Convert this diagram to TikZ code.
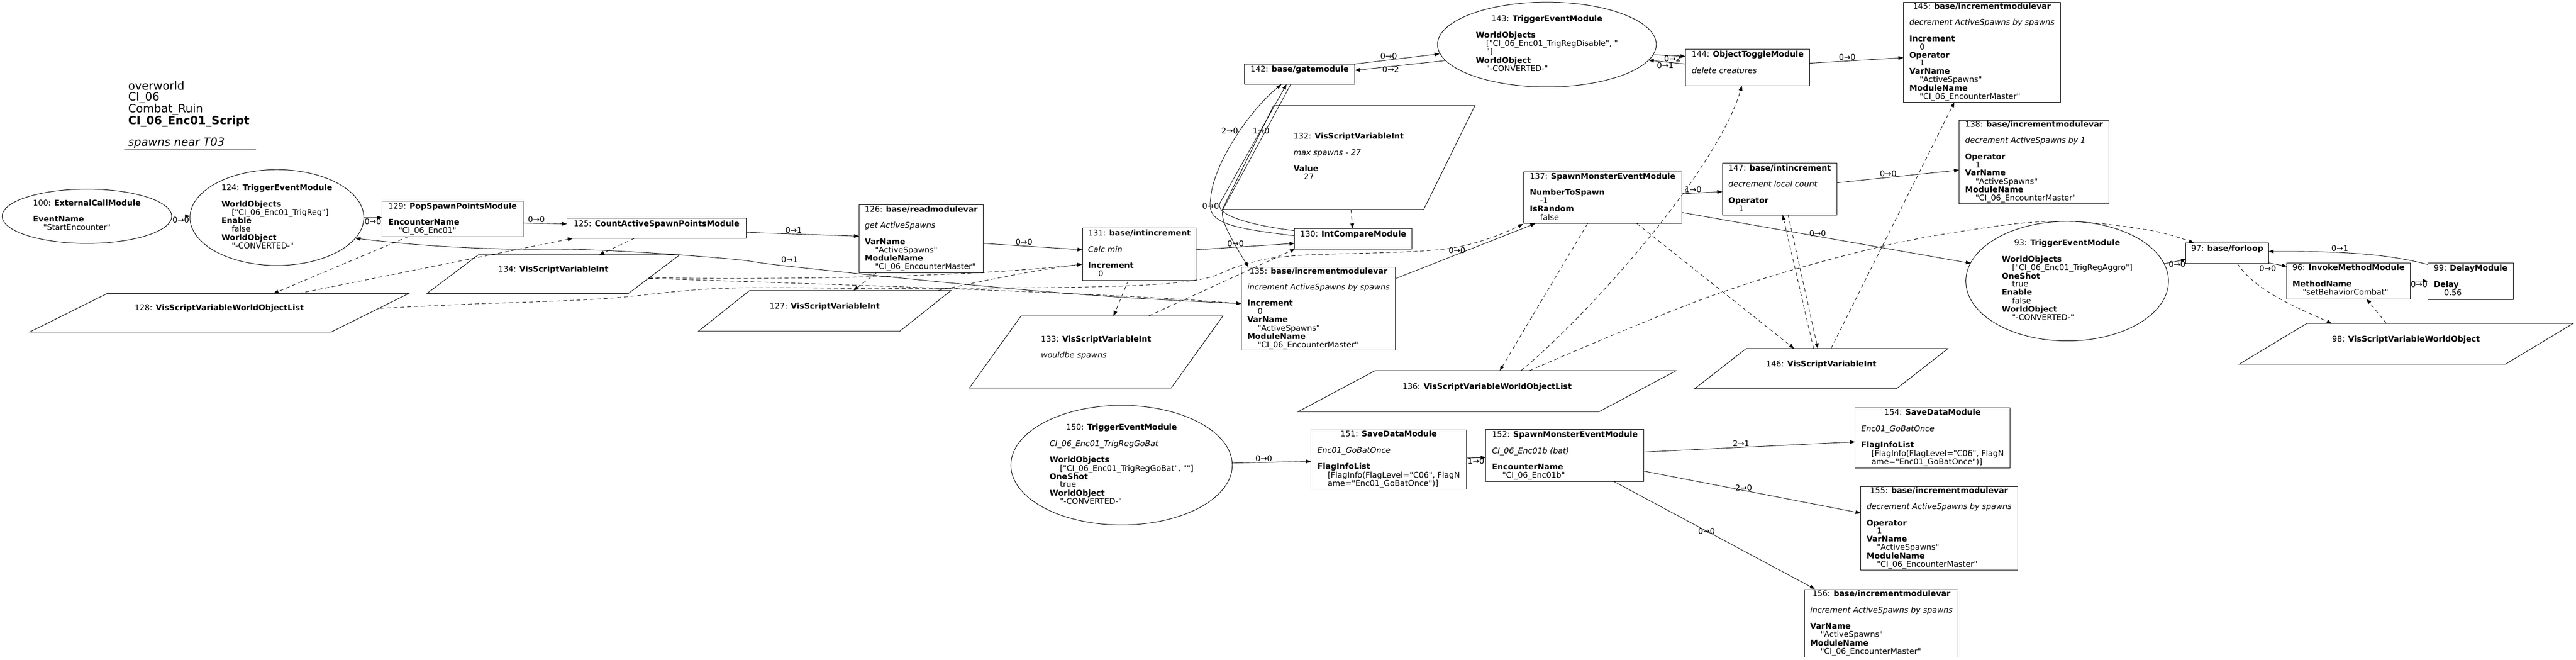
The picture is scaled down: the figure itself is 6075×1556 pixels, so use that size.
\documentclass[tikz,border=0pt]{standalone}
\usepackage{fontspec}
\setmainfont{DejaVu Sans}[Ligatures=TeXOff]
\usetikzlibrary{arrows.meta,calc}
\newcommand{\nfont}{\fontsize{14}{14}\selectfont}
\newcommand{\vv}[1]{\hspace*{1.3em}#1}
\newcommand{\hd}[1]{\multicolumn{1}{@{}c@{}}{#1}}
\newenvironment{nt}{\begin{tabular}{@{}l@{}}}{\end{tabular}}
\newcommand{\para}[4]{\draw[shp] ($(#1)+(-#2,-#4)$) -- ($(#1)+(#3,-#4)$) -- ($(#1)+(#2,#4)$) -- ($(#1)+(-#3,#4)$) -- cycle;}
\tikzset{
  shp/.style={line width=0.9pt},
  box/.style={draw, rectangle, line width=0.9pt, inner sep=0pt, font=\nfont},
  txt/.style={inner sep=0pt, font=\nfont},
  lbl/.style={inner sep=1pt, font=\nfont},
  sz/.style 2 args={minimum width=#1*0.75pt, minimum height=#2*0.75pt},
  arr/.style={line width=0.8pt, -{Triangle[length=9pt,width=6.5pt]}},
  dsh/.style={arr, dash pattern=on 7pt off 5pt},
}
\begin{document}
\begin{tikzpicture}[x=0.75pt,y=-0.75pt]
\fill[white] (0,0) rectangle (6075,1556);
\useasboundingbox (0,0) rectangle (6075,1556);

% title
\node[anchor=north west, inner sep=0pt, align=left, font=\fontsize{20}{19}\selectfont] (title) at (302,192)
 {overworld\\CI\_06\\Combat\_Ruin\\\textbf{CI\_06\_Enc01\_Script}\\\mbox{}\\\textit{spawns near T03}};
\draw[line width=1.2pt, gray!60!black] (293,353) -- (604,353);

% ellipses
\node[txt] (n100) at (205,510) {\begin{nt}\hd{100: \textbf{ExternalCallModule}}\\ \\ \textbf{EventName}\\ \vv{"StartEncounter"}\end{nt}};
\draw[shp] (n100) ellipse [x radius=150pt, y radius=48pt];
\node[txt] (n124) at (653,513) {\begin{nt}\hd{124: \textbf{TriggerEventModule}}\\ \\ \textbf{WorldObjects}\\ \vv{["CI\_06\_Enc01\_TrigReg"]}\\ \textbf{Enable}\\ \vv{false}\\ \textbf{WorldObject}\\ \vv{"-CONVERTED-"}\end{nt}};
\draw[shp] (n124) ellipse [x radius=153.75pt, y radius=84.75pt];
\node[txt] (n143) at (3648,105) {\begin{nt}\hd{143: \textbf{TriggerEventModule}}\\ \\ \textbf{WorldObjects}\\ \vv{["CI\_06\_Enc01\_TrigRegDisable", "}\\ \vv{"]}\\ \textbf{WorldObject}\\ \vv{"-CONVERTED-"}\end{nt}};
\draw[shp] (n143) ellipse [x radius=193.5pt, y radius=75pt];
\node[txt] (n93) at (4875,663) {\begin{nt}\hd{93: \textbf{TriggerEventModule}}\\ \\ \textbf{WorldObjects}\\ \vv{["CI\_06\_Enc01\_TrigRegAggro"]}\\ \textbf{OneShot}\\ \vv{true}\\ \textbf{Enable}\\ \vv{false}\\ \textbf{WorldObject}\\ \vv{"-CONVERTED-"}\end{nt}};
\draw[shp] (n93) ellipse [x radius=179.25pt, y radius=105.75pt];
\node[txt] (n150) at (2645,1097) {\begin{nt}\hd{150: \textbf{TriggerEventModule}}\\ \\ \textit{CI\_06\_Enc01\_TrigRegGoBat}\\ \\ \textbf{WorldObjects}\\ \vv{["CI\_06\_Enc01\_TrigRegGoBat", ""]}\\ \textbf{OneShot}\\ \vv{true}\\ \textbf{WorldObject}\\ \vv{"-CONVERTED-"}\end{nt}};
\draw[shp] (n150) ellipse [x radius=195.75pt, y radius=105.75pt];

% boxes
\node[box, sz={333}{83}] (n129) at (1067.5,516.5) {\begin{nt}\hd{129: \textbf{PopSpawnPointsModule}}\\ \\ \textbf{EncounterName}\\ \vv{"CI\_06\_Enc01"}\end{nt}};
\node[box, sz={423}{47}] (n125) at (1548.5,538.5) {\begin{nt}\hd{125: \textbf{CountActiveSpawnPointsModule}}\\ \mbox{}\end{nt}};
\node[box, sz={293}{160}] (n126) at (2172.5,563) {\begin{nt}\hd{126: \textbf{base/readmodulevar}}\\ \\ \textit{get ActiveSpawns}\\ \\ \textbf{VarName}\\ \vv{"ActiveSpawns"}\\ \textbf{ModuleName}\\ \vv{"CI\_06\_EncounterMaster"}\end{nt}};
\node[box, sz={268}{123}] (n131) at (2687,599.5) {\begin{nt}\hd{131: \textbf{base/intincrement}}\\ \\ \textit{Calc min}\\ \\ \textbf{Increment}\\ \vv{0}\end{nt}};
\node[box, sz={277}{48}] (n130) at (3191.5,563) {\begin{nt}\hd{130: \textbf{IntCompareModule}}\\ \mbox{}\end{nt}};
\node[box, sz={260}{48}] (n142) at (3065,175) {\begin{nt}\hd{142: \textbf{base/gatemodule}}\\ \mbox{}\end{nt}};
\node[box, sz={293}{86}] (n144) at (4121.5,159) {\begin{nt}\hd{144: \textbf{ObjectToggleModule}}\\ \\ \textit{delete creatures}\\ \mbox{}\end{nt}};
\node[box, sz={370}{236}] (n145) at (4674,123) {\begin{nt}\hd{145: \textbf{base/incrementmodulevar}}\\ \\ \textit{decrement ActiveSpawns by spawns}\\ \\ \textbf{Increment}\\ \vv{0}\\ \textbf{Operator}\\ \vv{1}\\ \textbf{VarName}\\ \vv{"ActiveSpawns"}\\ \textbf{ModuleName}\\ \vv{"CI\_06\_EncounterMaster"}\end{nt}};
\node[box, sz={354}{196}] (n138) at (4797,382) {\begin{nt}\hd{138: \textbf{base/incrementmodulevar}}\\ \\ \textit{decrement ActiveSpawns by 1}\\ \\ \textbf{Operator}\\ \vv{1}\\ \textbf{VarName}\\ \vv{"ActiveSpawns"}\\ \textbf{ModuleName}\\ \vv{"CI\_06\_EncounterMaster"}\end{nt}};
\node[box, sz={373}{122}] (n137) at (3779.5,466) {\begin{nt}\hd{137: \textbf{SpawnMonsterEventModule}}\\ \\ \textbf{NumberToSpawn}\\ \vv{-1}\\ \textbf{IsRandom}\\ \vv{false}\end{nt}};
\node[box, sz={270}{122}] (n147) at (4197,446) {\begin{nt}\hd{147: \textbf{base/intincrement}}\\ \\ \textit{decrement local count}\\ \\ \textbf{Operator}\\ \vv{1}\end{nt}};
\node[box, sz={363}{196}] (n135) at (3109.5,728) {\begin{nt}\hd{135: \textbf{base/incrementmodulevar}}\\ \\ \textit{increment ActiveSpawns by spawns}\\ \\ \textbf{Increment}\\ \vv{0}\\ \textbf{VarName}\\ \vv{"ActiveSpawns"}\\ \textbf{ModuleName}\\ \vv{"CI\_06\_EncounterMaster"}\end{nt}};
\node[box, sz={195}{48}] (n97) at (5252.5,597) {\begin{nt}\hd{97: \textbf{base/forloop}}\\ \mbox{}\end{nt}};
\node[box, sz={291}{85}] (n96) at (5538.5,662.5) {\begin{nt}\hd{96: \textbf{InvokeMethodModule}}\\ \\ \textbf{MethodName}\\ \vv{"setBehaviorCombat"}\end{nt}};
\node[box, sz={201}{86}] (n99) at (5826.5,663) {\begin{nt}\hd{99: \textbf{DelayModule}}\\ \\ \textbf{Delay}\\ \vv{0.56}\end{nt}};
\node[box, sz={366}{140}] (n151) at (3275,1084) {\begin{nt}\hd{151: \textbf{SaveDataModule}}\\ \\ \textit{Enc01\_GoBatOnce}\\ \\ \textbf{FlagInfoList}\\ \vv{[FlagInfo(FlagLevel="C06", FlagN}\\ \vv{ame="Enc01\_GoBatOnce")]}\end{nt}};
\node[box, sz={373}{123}] (n152) at (3690.5,1074.5) {\begin{nt}\hd{152: \textbf{SpawnMonsterEventModule}}\\ \\ \textit{CI\_06\_Enc01b (bat)}\\ \\ \textbf{EncounterName}\\ \vv{"CI\_06\_Enc01b"}\end{nt}};
\node[box, sz={365}{142}] (n154) at (4557.5,1033) {\begin{nt}\hd{154: \textbf{SaveDataModule}}\\ \\ \textit{Enc01\_GoBatOnce}\\ \\ \textbf{FlagInfoList}\\ \vv{[FlagInfo(FlagLevel="C06", FlagN}\\ \vv{ame="Enc01\_GoBatOnce")]}\end{nt}};
\node[box, sz={370}{197}] (n155) at (4573,1245.5) {\begin{nt}\hd{155: \textbf{base/incrementmodulevar}}\\ \\ \textit{decrement ActiveSpawns by spawns}\\ \\ \textbf{Operator}\\ \vv{1}\\ \textbf{VarName}\\ \vv{"ActiveSpawns"}\\ \textbf{ModuleName}\\ \vv{"CI\_06\_EncounterMaster"}\end{nt}};
\node[box, sz={362}{160}] (n156) at (4437,1470) {\begin{nt}\hd{156: \textbf{base/incrementmodulevar}}\\ \\ \textit{increment ActiveSpawns by spawns}\\ \\ \textbf{VarName}\\ \vv{"ActiveSpawns"}\\ \textbf{ModuleName}\\ \vv{"CI\_06\_EncounterMaster"}\end{nt}};

% parallelograms
\node[txt] (n128) at (517,737.5) {\begin{nt}\hd{128: \textbf{VisScriptVariableWorldObjectList}}\\ \mbox{}\end{nt}};
\para{n128}{264}{447}{45.5}
\node[txt] (n134) at (1305,646.5) {\begin{nt}\hd{134: \textbf{VisScriptVariableInt}}\\ \mbox{}\end{nt}};
\para{n134}{177}{298}{45.5}
\node[txt] (n127) at (1945,733) {\begin{nt}\hd{127: \textbf{VisScriptVariableInt}}\\ \mbox{}\end{nt}};
\para{n127}{177}{298}{48}
\node[txt] (n133) at (2585,830) {\begin{nt}\hd{133: \textbf{VisScriptVariableInt}}\\ \\ \textit{wouldbe spawns}\\ \mbox{}\end{nt}};
\para{n133}{177}{299}{85}
\node[txt] (n132) at (3180.5,371.5) {\begin{nt}\hd{132: \textbf{VisScriptVariableInt}}\\ \\ \textit{max spawns - 27}\\ \\ \textbf{Value}\\ \vv{27}\end{nt}};
\para{n132}{177}{298}{122.5}
\node[txt] (n136) at (3507,922.5) {\begin{nt}\hd{136: \textbf{VisScriptVariableWorldObjectList}}\\ \mbox{}\end{nt}};
\para{n136}{264}{446}{48.5}
\node[txt] (n146) at (4295,869.5) {\begin{nt}\hd{146: \textbf{VisScriptVariableInt}}\\ \mbox{}\end{nt}};
\para{n146}{177}{299}{47.5}
\node[txt] (n98) at (5674,811) {\begin{nt}\hd{98: \textbf{VisScriptVariableWorldObject}}\\ \mbox{}\end{nt}};
\para{n98}{234}{394}{48}

% solid edges
\draw[arr] ($(n100)+(200,0)$) -- node[lbl,anchor=north]{0→0} ($(n124)+(-205,-3)$);
\draw[arr] ($(n124)+(205,0)$) -- node[lbl,anchor=north]{0→0} ($(n129)+(-166.5,-3.5)$);
\draw[arr] ($(n129)+(166.5,9.5)$) -- node[lbl,anchor=south,pos=.3]{0→0} ($(n125)+(-211.5,-10.5)$);
\draw[arr] ($(n125)+(211.5,9.5)$) -- node[lbl,anchor=south,pos=.42]{0→1} ($(n126)+(-146.5,-6)$);
\draw[arr] ($(n126)+(146.5,11)$) -- node[lbl,anchor=south,pos=.41]{0→0} ($(n131)+(-134,-10.5)$);
\draw[arr] ($(n131)+(134,-10.5)$) -- node[lbl,anchor=south,pos=.4]{0→0} ($(n130)+(-138.5,11)$);
\draw[arr] ($(n130)+(-138.5,-7)$) .. controls ($(n130)+(-296.5,-26)$) and ($(n130)+(-346.5,-38)$) .. ($(n130)+(-336.5,-93)$) .. controls ($(n142)+(-206,215)$) and ($(n142)+(-120,87)$) .. ($(n142)+(-43,24)$);
\draw[arr] ($(n130)+(-138.5,-19)$) .. controls ($(n130)+(-251.5,-33)$) and ($(n130)+(-329.5,-58)$) .. ($(n130)+(-313.5,-86)$) -- ($(n142)+(-31,24)$);
\node[lbl] at ($(n142)+(-165,134)$) {2→0};
\node[lbl] at ($(n142)+(-91,134)$) {1→0};
\draw[arr] ($(n142)+(-21,24)$) -- ($(n142)+(-180,317)$) .. controls ($(n142)+(-192,339)$) and ($(n135)+(-201.5,-158)$) .. ($(n135)+(-165.5,-98)$);
\node[lbl] at ($(n142)+(-210,311)$) {0→0};
\draw[arr] ($(n142)+(130,-24)$) -- node[lbl,anchor=south,pos=.4]{0→0} ($(n143)+(-253,22)$);
\draw[arr] ($(n143)+(-241,38)$) -- node[lbl,anchor=north,pos=.6,inner sep=0pt]{0→2} ($(n142)+(130,-9)$);
\draw[arr] ($(n143)+(250,24)$) -- node[lbl,anchor=north,pos=.6,inner sep=0pt]{0→2} ($(n144)+(-146.5,-26)$);
\draw[arr] ($(n144)+(-146.5,-8)$) -- node[lbl,anchor=north,pos=.55,inner sep=0pt]{0→1} ($(n143)+(240,37)$);
\draw[arr] ($(n144)+(146.5,-10)$) -- node[lbl,anchor=south,pos=.4]{0→0} ($(n145)+(-185,13)$);
\draw[arr] ($(n137)+(186.5,-9)$) -- node[lbl,anchor=south,pos=.28]{1→0} ($(n147)+(-135,6)$);
\draw[arr] ($(n147)+(135,-15)$) -- node[lbl,anchor=south,pos=.42]{0→0} ($(n138)+(-177,19)$);
\draw[arr] ($(n137)+(186.5,35)$) -- node[lbl,anchor=south,pos=.47,inner sep=0pt]{0→0} ($(n93)+(-227,-42)$);
\draw[arr] ($(n135)+(181.5,-71)$) -- node[lbl,anchor=south,pos=.44]{0→0} ($(n137)+(-158.5,61)$);
\draw[arr] ($(n93)+(228,-41)$) -- node[lbl,anchor=north,pos=.6,inner sep=0pt]{0→0} ($(n97)+(-97.5,15)$);
\draw[arr] ($(n97)+(97.5,23)$) -- ($(n96)+(-145.5,-34.5)$);
\node[lbl] at ($(n97)+(95.5,36)$) {0→0};
\draw[arr] ($(n96)+(145.5,0)$) -- node[lbl,anchor=north,inner sep=0pt]{0→0} ($(n99)+(-100.5,0)$);
\draw[arr] ($(n99)+(-100.5,-39)$) .. controls ($(n99)+(-190,-63)$) and ($(n97)+(280,-5)$) .. ($(n97)+(97.5,-4)$);
\node[lbl] at ($(n97)+(265.5,-11)$) {0→1};
\draw[arr] ($(n150)+(261,-5)$) -- node[lbl,anchor=south,pos=.4]{0→0} ($(n151)+(-183,4)$);
\draw[arr] ($(n151)+(183,-4)$) -- node[lbl,anchor=north,inner sep=0pt]{1→0} ($(n152)+(-186.5,4.5)$);
\draw[arr] ($(n152)+(186.5,-8.5)$) -- node[lbl,anchor=south,pos=.46]{2→1} ($(n154)+(-182.5,9)$);
\draw[arr] ($(n152)+(186.5,36.5)$) -- node[lbl,pos=.46,yshift=4.5pt]{2→0} ($(n155)+(-185,-35.5)$);
\draw[arr] ($(n152)+(116.5,61.5)$) -- node[lbl,pos=.46]{0→0} ($(n156)+(-157,-81)$);
\draw[arr] plot[smooth,tension=.7] coordinates {($(n135)+(-182,-12)$) (2600,698) (2250,668) (1861,628) (1704,609) (1413,590) (1185,587) (1000,578) ($(n124)+(185,49)$)};
\node[lbl] at (1862,612) {0→1};

% dashed edges
\draw[dsh] ($(n129)+(-104.5,41.5)$) -- ($(n128)+(128,-45.5)$);
\draw[dsh] ($(n128)+(187,-45.5)$) -- ($(n125)+(-197.5,23.5)$);
\draw[dsh] ($(n125)+(-52.5,23.5)$) -- ($(n134)+(108,-45.5)$);
\draw[dsh] plot[smooth,tension=.6] coordinates {($(n128)+(379,-10.5)$) (1087,718) (1413,705) (1704,680) (2100,680) (2600,676) (2824,660) (2930,625) (3054,603) (3417,586) ($(n137)+(-187.5,62)$)};
\draw[dsh] ($(n134)+(225,8.5)$) .. controls (1900,660) and (2300,652) .. ($(n131)+(-135,23.5)$);
\draw[dsh] ($(n134)+(225,10)$) .. controls (2000,672) and (2600,690) .. ($(n135)+(-182,-12)$);
\draw[dsh] ($(n126)+(-105.5,80)$) -- ($(n127)+(68,-48)$);
\draw[dsh] ($(n127)+(267,-48)$) .. controls (2330,660) and (2450,635) .. ($(n131)+(-135,23.5)$);
\draw[dsh] ($(n131)+(-26,61.5)$) -- ($(n133)+(41,-85)$);
\draw[dsh] ($(n133)+(124,-85)$) -- ($(n130)+(-137.5,24)$);
\draw[dsh] ($(n132)+(5.5,122.5)$) -- ($(n130)+(-1.5,-24)$);
\draw[dsh] ($(n137)+(-35.5,61)$) -- ($(n136)+(30,-48.5)$);
\draw[dsh] ($(n136)+(80,-48.5)$) .. controls (3750,740) and (4050,400) .. ($(n144)+(-13.5,43)$);
\draw[dsh] plot[smooth,tension=.6] coordinates {($(n136)+(100,-48.5)$) (4030,700) (4400,590) (4682,537) (4873,522) (5070,543) ($(n97)+(-78.5,-24)$)};
\draw[dsh] ($(n137)+(80.5,61)$) -- ($(n146)+(-64,-47.5)$);
\draw[dsh] ($(n146)+(-18,-47.5)$) -- ($(n147)+(7,61)$);
\draw[dsh] ($(n147)+(20,61)$) -- ($(n146)+(-8,-47.5)$);
\draw[dsh] ($(n146)+(23,-47.5)$) -- ($(n145)+(-65,118)$);
\draw[dsh] ($(n97)+(23.5,24)$) .. controls (5320,690) and (5440,735) .. ($(n98)+(-175,-48)$);
\draw[dsh] ($(n98)+(-46,-48)$) -- ($(n96)+(42.5,42.5)$);
\end{tikzpicture}
\end{document}
